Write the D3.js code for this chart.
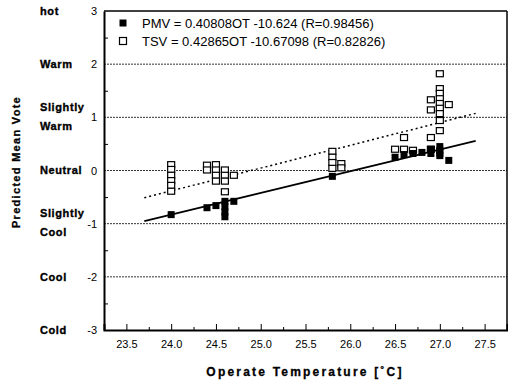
<!DOCTYPE html>
<html>
<head>
<meta charset="utf-8">
<script src="https://cdn.jsdelivr.net/npm/d3@7"></script>
<style>
  body { margin: 0; background: #fff; }
  svg { font-family: "Liberation Sans", Arial, sans-serif; }
</style>
</head>
<body>
<svg width="508" height="385"></svg>
<script>
// data
var pmvTemp = [24.0, 24.4, 24.5, 24.6, 24.6, 24.6, 24.6, 24.7, 25.8,
               26.5, 26.6, 26.7, 26.8, 26.9, 26.9, 27.0, 27.0, 27.0, 27.0, 27.1];
var pmvVote = [-0.83, -0.70, -0.66, -0.58, -0.68, -0.78, -0.87, -0.58, -0.11,
               0.25, 0.30, 0.32, 0.34, 0.40, 0.32, 0.45, 0.38, 0.32, 0.28, 0.19];

var tsvTemp = [24.0, 24.0, 24.0, 24.0, 24.0, 24.0,
               24.4, 24.4, 24.5, 24.5, 24.5, 24.5,
               24.6, 24.6, 24.6, 24.6, 24.7,
               25.8, 25.8, 25.8, 25.8, 25.9, 25.9,
               26.5, 26.6, 26.6, 26.7,
               26.9, 26.9, 26.9, 26.9,
               27.0, 27.0, 27.0, 27.0, 27.0, 27.0, 27.0, 27.0, 27.0, 27.1];
var tsvVote = [0.11, 0.02, -0.09, -0.19, -0.28, -0.39,
               0.10, 0.01, 0.11, 0.01, -0.09, -0.20,
               0.01, -0.09, -0.20, -0.40, -0.09,
               0.36, 0.25, 0.15, 0.04, 0.13, 0.05,
               0.40, 0.62, 0.40, 0.38,
               1.33, 1.14, 0.62, 0.40,
               1.82, 1.54, 1.45, 1.35, 1.26, 1.17, 1.07, 0.94, 0.75, 1.24];

var pmvFit = {a: 0.40808, b: -10.624};
var tsvFit = {a: 0.42865, b: -10.67098};
var fitRange = [23.7, 27.4];

var legendText = ["PMV = 0.40808OT -10.624 (R=0.98456)",
                  "TSV = 0.42865OT -10.67098 (R=0.82826)"];
var xTicks = [23.5, 24.0, 24.5, 25.0, 25.5, 26.0, 26.5, 27.0, 27.5];
var yTicks = [-3, -2, -1, 0, 1, 2, 3];
var yNames = [["Cold"], ["Cool"], ["Slightly", "Cool"], ["Neutral"],
              ["Slightly", "Warm"], ["Warm"], ["hot"]];

var svg = d3.select("svg");

var x = d3.scaleLinear().domain([23.25, 27.75]).range([104, 507]);
var y = d3.scaleLinear().domain([-3, 3]).range([330, 11]);

// grid lines at integer votes
svg.append("g")
  .selectAll("line")
  .data(yTicks.filter(function(d) { return d > -3 && d < 3; }))
  .enter().append("line")
  .attr("x1", x(23.25)).attr("x2", x(27.75))
  .attr("y1", function(d) { return y(d); })
  .attr("y2", function(d) { return y(d); })
  .attr("stroke", "#333")
  .attr("stroke-width", 1)
  .attr("stroke-dasharray", "2,1");

// frame
svg.append("line")
  .attr("x1", x(23.25)).attr("x2", x(27.75))
  .attr("y1", y(3)).attr("y2", y(3))
  .attr("stroke", "#000").attr("stroke-width", 1.5);
svg.append("line")
  .attr("x1", x(27.75)).attr("x2", x(27.75))
  .attr("y1", y(3)).attr("y2", y(-3))
  .attr("stroke", "#000").attr("stroke-width", 1.5);

// x axis, ticks pointing inward
var xAxis = svg.append("g")
  .attr("transform", "translate(0," + y(-3) + ")")
  .call(d3.axisBottom(x).tickValues(xTicks).tickSize(-6).tickPadding(10)
    .tickFormat(d3.format(".1f")));
xAxis.select(".domain").attr("stroke-width", 2);
xAxis.selectAll("text").attr("font-size", 11).attr("fill", "#000");

svg.append("g")
  .attr("transform", "translate(0," + y(-3) + ")")
  .call(d3.axisBottom(x).tickValues(d3.range(23.75, 27.6, 0.5)).tickSize(-3).tickFormat(""))
  .select(".domain").remove();

// y axis
var yAxis = svg.append("g")
  .attr("transform", "translate(" + x(23.25) + ",0)")
  .call(d3.axisLeft(y).tickValues(yTicks).tickSize(0).tickPadding(7)
    .tickFormat(function(d) { return String(d); }));
yAxis.select(".domain").attr("stroke-width", 2);
yAxis.selectAll("text").attr("font-size", 11).attr("fill", "#000");

svg.append("g")
  .attr("transform", "translate(" + x(23.25) + ",0)")
  .call(d3.axisLeft(y).tickValues(d3.range(-2.5, 3, 1)).tickSize(-4).tickFormat(""))
  .select(".domain").remove();

// category names
svg.append("g")
  .selectAll("text")
  .data(yTicks)
  .enter().append("text")
  .attr("x", 40)
  .attr("y", function(d) { return y(d); })
  .attr("font-size", 11)
  .attr("font-weight", "bold")
  .attr("letter-spacing", 0.6)
  .attr("stroke", "#000")
  .attr("stroke-width", 0.35)
  .each(function(d, i) {
    var lines = yNames[i];
    var t = d3.select(this);
    lines.forEach(function(s, k) {
      t.append("tspan")
        .attr("x", 40)
        .attr("dy", k == 0 ? (lines.length == 1 ? "0.35em" : "-0.6em") : "1.75em")
        .text(s);
    });
  });

// fitted lines
var line = d3.line()
  .x(function(d) { return x(d[0]); })
  .y(function(d) { return y(d[1]); });

svg.append("path")
  .datum(fitRange.map(function(t) { return [t, pmvFit.a * t + pmvFit.b]; }))
  .attr("d", line)
  .attr("fill", "none")
  .attr("stroke", "#000")
  .attr("stroke-width", 1.8);

svg.append("path")
  .datum(fitRange.map(function(t) { return [t, tsvFit.a * t + tsvFit.b]; }))
  .attr("d", line)
  .attr("fill", "none")
  .attr("stroke", "#000")
  .attr("stroke-width", 1.5)
  .attr("stroke-dasharray", "2,3");

// TSV open squares
svg.append("g")
  .selectAll("rect")
  .data(tsvTemp)
  .enter().append("rect")
  .attr("x", function(d) { return x(d) - 3.5; })
  .attr("y", function(d, i) { return y(tsvVote[i]) - 3; })
  .attr("width", 7)
  .attr("height", 6)
  .attr("fill", "#fff")
  .attr("stroke", "#000")
  .attr("stroke-width", 1.2);

// PMV filled squares
svg.append("g")
  .selectAll("rect")
  .data(pmvTemp)
  .enter().append("rect")
  .attr("x", function(d) { return x(d) - 3.5; })
  .attr("y", function(d, i) { return y(pmvVote[i]) - 3.5; })
  .attr("width", 7)
  .attr("height", 7)
  .attr("fill", "#000");

// legend
var legend = svg.append("g")
  .selectAll("g")
  .data(legendText)
  .enter().append("g")
  .attr("transform", function(d, i) { return "translate(123," + (23 + i * 18) + ")"; });

legend.append("rect")
  .attr("x", -3.5).attr("y", -3.5)
  .attr("width", 7).attr("height", 7)
  .attr("fill", function(d, i) { return i == 0 ? "#000" : "#fff"; })
  .attr("stroke", "#000")
  .attr("stroke-width", function(d, i) { return i == 0 ? 0 : 1.2; });

legend.append("text")
  .attr("x", 19)
  .attr("dy", "0.35em")
  .attr("font-size", 13)
  .text(function(d) { return d; });

// axis titles
svg.append("text")
  .attr("x", 305)
  .attr("y", 376)
  .attr("text-anchor", "middle")
  .attr("font-size", 12)
  .attr("font-weight", "bold")
  .attr("letter-spacing", 2.2)
  .attr("stroke", "#000")
  .attr("stroke-width", 0.3)
  .text("Operate Temperature [\u02DAC]");

svg.append("text")
  .attr("transform", "translate(20,162) rotate(-90)")
  .attr("text-anchor", "middle")
  .attr("font-size", 11)
  .attr("font-weight", "bold")
  .attr("letter-spacing", 1.3)
  .attr("stroke", "#000")
  .attr("stroke-width", 0.3)
  .text("Predicted Mean Vote");
</script>
</body>
</html>
